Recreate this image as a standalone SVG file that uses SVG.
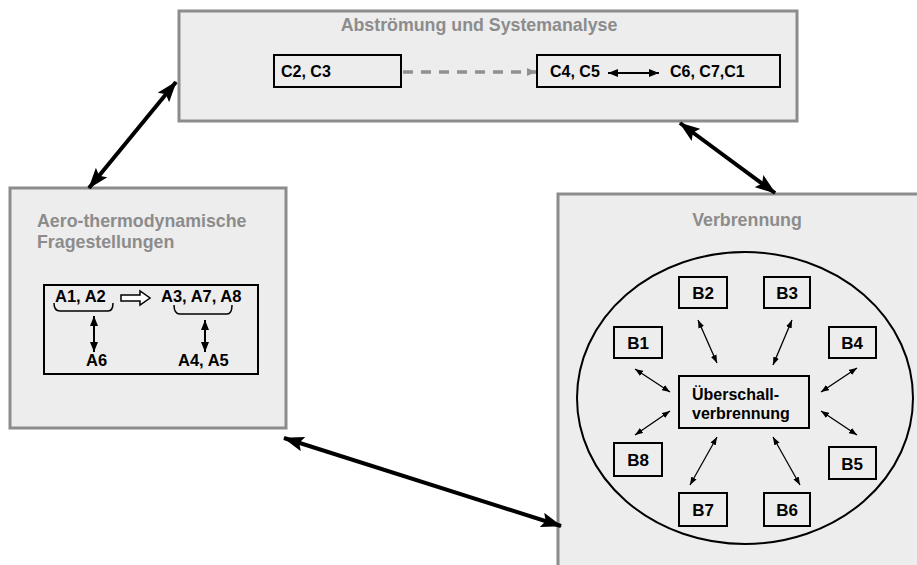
<svg xmlns="http://www.w3.org/2000/svg" width="917" height="565" viewBox="0 0 917 565">
  <style>
    .panel { fill: #ededed; stroke: #8c8c8c; stroke-width: 3; }
    .title { font-family: "Liberation Sans", Arial, sans-serif; font-weight: bold; font-size: 17.8px; fill: #8c8c8c; }
    .lbl { font-family: "Liberation Sans", Arial, sans-serif; font-weight: bold; font-size: 16px; fill: #000; }
    .blbl { font-family: "Liberation Sans", Arial, sans-serif; font-weight: bold; font-size: 17px; fill: #000; }
    .box { fill: none; stroke: #000; stroke-width: 2; }
    .big { stroke: #000; stroke-width: 4; fill: none; marker-start: url(#bigHead); marker-end: url(#bigHead); }
    .thin { stroke: #000; stroke-width: 1.3; fill: none; marker-start: url(#thinHead); marker-end: url(#thinHead); }
    .mid { stroke: #000; stroke-width: 2; fill: none; marker-start: url(#midHead); marker-end: url(#midHead); }
  </style>
  <defs>
    <marker id="bigHead" markerUnits="userSpaceOnUse" viewBox="0 0 21 15" refX="20" refY="7.5" markerWidth="21" markerHeight="15" orient="auto-start-reverse">
      <path d="M0,0 L21,7.5 L0,15 L4,7.5 Z" fill="#000"/>
    </marker>
    <marker id="thinHead" markerUnits="userSpaceOnUse" viewBox="0 0 8 6" refX="8" refY="3" markerWidth="8" markerHeight="6" orient="auto-start-reverse">
      <path d="M0,0 L8,3 L0,6 Z" fill="#000"/>
    </marker>
    <marker id="midHead" markerUnits="userSpaceOnUse" viewBox="0 0 10 8" refX="10" refY="4" markerWidth="10" markerHeight="8" orient="auto-start-reverse">
      <path d="M0,0 L10,4 L0,8 Z" fill="#000"/>
    </marker>
    <marker id="grayHead" markerUnits="userSpaceOnUse" viewBox="0 0 9 8" refX="9" refY="4" markerWidth="9" markerHeight="8" orient="auto">
      <path d="M0,0 L9,4 L0,8 Z" fill="#909090"/>
    </marker>
  </defs>

  <!-- Panel: Abströmung und Systemanalyse -->
  <g id="panel-abstroemung">
    <rect class="panel" x="179" y="11" width="618" height="110"/>
    <text class="title" x="479" y="31" text-anchor="middle">Abströmung und Systemanalyse</text>
    <g id="node-c2c3">
      <rect class="box" x="274" y="55" width="127" height="32"/>
      <text class="lbl" x="281" y="77">C2, C3</text>
    </g>
    <g id="node-c4c7">
      <rect class="box" x="537" y="55" width="243" height="32"/>
      <text class="lbl" x="550" y="77">C4, C5</text>
      <text class="lbl" x="670" y="77">C6, C7,C1</text>
    </g>
  </g>

  <!-- Panel: Aero-thermodynamische Fragestellungen -->
  <g id="panel-aero">
    <rect class="panel" x="10" y="188" width="276" height="240"/>
    <text class="title" x="37" y="227">Aero-thermodynamische</text>
    <text class="title" x="37" y="248">Fragestellungen</text>
    <g id="node-a-group">
      <rect class="box" x="44" y="285" width="214" height="89"/>
      <text class="lbl" x="55" y="302" style="font-size:16.5px">A1, A2</text>
      <text class="lbl" x="161" y="302" style="font-size:16.5px">A3, A7, A8</text>
      <text class="lbl" x="86" y="366" style="font-size:16.5px">A6</text>
      <text class="lbl" x="178" y="366" style="font-size:16.5px">A4, A5</text>
      <!-- braces under the upper labels -->
      <path d="M54,303 Q54,311 60,311 L108,311 Q113,311 113,303" fill="none" stroke="#000" stroke-width="1.5"/>
      <path d="M174,305 Q174,314 180,314 L227,314 Q232,314 232,305" fill="none" stroke="#000" stroke-width="1.5"/>
      <!-- hollow implication arrow -->
      <path d="M121,295 L140,295 L140,291 L150,298 L140,305 L140,301 L121,301 Z" fill="#fff" stroke="#000" stroke-width="1.5" stroke-linejoin="miter"/>
    </g>
  </g>

  <!-- Panel: Verbrennung -->
  <g id="panel-verbrennung">
    <rect class="panel" x="558" y="194" width="400" height="400"/>
    <text class="title" x="747" y="226" text-anchor="middle">Verbrennung</text>
    <ellipse cx="745" cy="398" rx="168" ry="146" fill="none" stroke="#000" stroke-width="2"/>
    <g id="node-center">
      <rect class="box" x="679" y="376" width="130" height="52"/>
      <text class="lbl" x="692" y="400">Überschall-</text>
      <text class="lbl" x="692" y="419">verbrennung</text>
    </g>
    <g id="node-b1"><rect class="box" x="614" y="327" width="48" height="31"/><text class="blbl" x="638" y="349" text-anchor="middle">B1</text></g>
    <g id="node-b2"><rect class="box" x="679" y="277" width="48" height="31"/><text class="blbl" x="703" y="299" text-anchor="middle">B2</text></g>
    <g id="node-b3"><rect class="box" x="764" y="277" width="46" height="31"/><text class="blbl" x="787" y="299" text-anchor="middle">B3</text></g>
    <g id="node-b4"><rect class="box" x="829" y="327" width="47" height="31"/><text class="blbl" x="852" y="349" text-anchor="middle">B4</text></g>
    <g id="node-b5"><rect class="box" x="829" y="447" width="47" height="32"/><text class="blbl" x="852" y="470" text-anchor="middle">B5</text></g>
    <g id="node-b6"><rect class="box" x="764" y="493" width="46" height="33"/><text class="blbl" x="787" y="516" text-anchor="middle">B6</text></g>
    <g id="node-b7"><rect class="box" x="679" y="493" width="48" height="33"/><text class="blbl" x="703" y="516" text-anchor="middle">B7</text></g>
    <g id="node-b8"><rect class="box" x="614" y="443" width="48" height="33"/><text class="blbl" x="638" y="466" text-anchor="middle">B8</text></g>
  </g>

  <!-- Connectors -->
  <g id="connectors">
    <!-- between panels -->
    <line class="big" x1="89" y1="188" x2="176" y2="82"/>
    <line class="big" x1="680" y1="123" x2="775" y2="193"/>
    <line class="big" x1="284" y1="438" x2="561" y2="526"/>
    <!-- inside Abströmung -->
    <line x1="403" y1="72" x2="536" y2="72" stroke="#909090" stroke-width="3.5" stroke-dasharray="10,8" marker-end="url(#grayHead)"/>
    <line class="mid" x1="608" y1="73" x2="659" y2="73"/>
    <!-- inside Aero -->
    <line class="mid" x1="94" y1="316" x2="94" y2="352"/>
    <line class="mid" x1="205" y1="320" x2="205" y2="352"/>
    <!-- inside Verbrennung -->
    <line class="thin" x1="698" y1="320" x2="717" y2="363"/>
    <line class="thin" x1="792" y1="320" x2="773" y2="365"/>
    <line class="thin" x1="635" y1="369" x2="670" y2="392"/>
    <line class="thin" x1="857" y1="368" x2="821" y2="392"/>
    <line class="thin" x1="670" y1="411" x2="635" y2="435"/>
    <line class="thin" x1="821" y1="411" x2="857" y2="435"/>
    <line class="thin" x1="717" y1="437" x2="690" y2="485"/>
    <line class="thin" x1="773" y1="437" x2="800" y2="485"/>
  </g>
</svg>
